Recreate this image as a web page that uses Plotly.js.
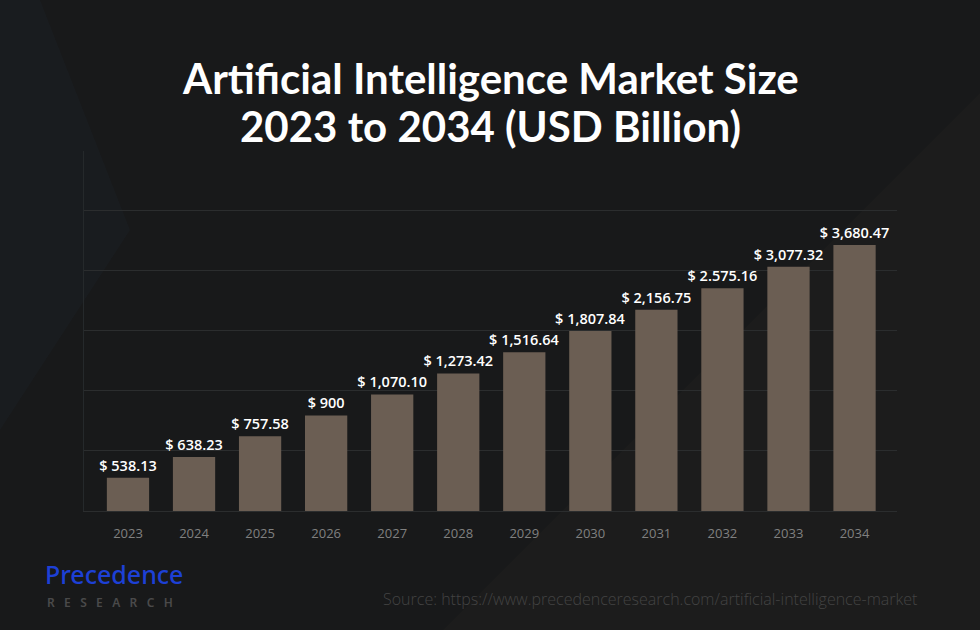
<!DOCTYPE html>
<html>
<head>
<meta charset="utf-8">
<script src="https://cdn.plot.ly/plotly-3.0.1.min.js"></script>
<style>html,body{margin:0;padding:0;background:#18191a;}#chart{width:980px;height:630px;}</style>
</head>
<body>
<div id="chart"></div>
<script>
const years = ["2023","2024","2025","2026","2027","2028","2029","2030","2031","2032","2033","2034"];
const marketSize = [538.13, 638.23, 757.58, 900, 1070.10, 1273.42, 1516.64, 1807.84, 2156.75, 2575.16, 3077.32, 3680.47];
const valueLabels = ["$ 538.13","$ 638.23","$ 757.58","$ 900","$ 1,070.10","$ 1,273.42","$ 1,516.64","$ 1,807.84","$ 2,156.75","$ 2.575.16","$ 3,077.32","$ 3,680.47"];
const gridValues = [671, 1102, 1809, 2971, 4878];

const W = 980, H = 630, L = 84, R = 83, T = 151, B = 119;
const pw = W - L - R, ph = H - T - B;
const px = x => (x - L) / pw;
const py = y => (H - B - y) / ph;

const trace = {
  type: 'bar',
  x: years.map((y, i) => i),
  y: marketSize,
  text: valueLabels,
  textposition: 'outside',
  constraintext: 'none',
  cliponaxis: false,
  textfont: {family: 'Open Sans', size: 14.5, color: '#ffffff', weight: 600},
  marker: {color: '#6b5e53'},
  hoverinfo: 'none'
};

function poly(pts){ return 'M ' + pts.map(p => px(p[0]) + ' ' + py(p[1])).join(' L ') + ' Z'; }

const layout = {
  width: W, height: H,
  margin: {l: L, r: R, t: T, b: B},
  paper_bgcolor: '#18191a',
  plot_bgcolor: 'rgba(0,0,0,0)',
  showlegend: false,
  bargap: 0.36,
  xaxis: {
    range: [-0.666, 11.643],
    tickvals: years.map((y, i) => i),
    ticktext: years,
    tickfont: {family: 'Open Sans', size: 13, color: '#808080'},
    ticks: 'outside', ticklen: 10, tickcolor: 'rgba(0,0,0,0)',
    showgrid: false, zeroline: false, showline: true, linecolor: '#2b2d2e', linewidth: 1, fixedrange: true
  },
  yaxis: {
    type: 'log',
    range: [2.6112, 3.9034],
    tickvals: gridValues,
    showticklabels: false,
    showgrid: true, gridcolor: '#2b2d2e', gridwidth: 1,
    zeroline: false,
    showline: true, linecolor: '#25292b', linewidth: 1,
    fixedrange: true
  },
  shapes: [
    {type: 'path', xref: 'paper', yref: 'paper', layer: 'below', line: {width: 0},
     fillcolor: 'rgba(40,62,75,0.10)', path: poly([[0,0],[40,0],[130,230],[0,430]])},
    {type: 'path', xref: 'paper', yref: 'paper', layer: 'below', line: {width: 0},
     fillcolor: 'rgba(70,58,45,0.10)', path: poly([[443,630],[980,93],[980,630]])}
  ],
  annotations: [
    {xref: 'paper', yref: 'paper', x: 0.5, y: py(78), xanchor: 'center', yanchor: 'middle',
     text: 'Artificial Intelligence Market Size', showarrow: false,
     font: {family: 'Lato', size: 42, color: '#ffffff', weight: 700}},
    {xref: 'paper', yref: 'paper', x: 0.5, y: py(126), xanchor: 'center', yanchor: 'middle',
     text: '2023 to 2034 (USD Billion)', showarrow: false,
     font: {family: 'Lato', size: 42, color: '#ffffff', weight: 700}},
    {xref: 'paper', yref: 'paper', x: px(43), y: py(574), xanchor: 'left', yanchor: 'middle',
     text: 'Precedence', showarrow: false,
     font: {family: 'Noto Sans', size: 25, color: '#1d40d6', weight: 500}},
    {xref: 'paper', yref: 'paper', x: px(45), y: py(602), xanchor: 'left', yanchor: 'middle',
     text: 'R   E   S   E   A   R   C   H', showarrow: false,
     font: {family: 'Noto Sans', size: 12, color: '#4a4a4a', weight: 600}},
    {xref: 'paper', yref: 'paper', x: px(919), y: py(599), xanchor: 'right', yanchor: 'middle',
     text: 'Source: https://www.precedenceresearch.com/artificial-intelligence-market', showarrow: false,
     font: {family: 'Open Sans', size: 16, color: '#434343', weight: 300}}
  ]
};

Plotly.newPlot('chart', [trace], layout, {displayModeBar: false, staticPlot: true});
</script>
</body>
</html>
